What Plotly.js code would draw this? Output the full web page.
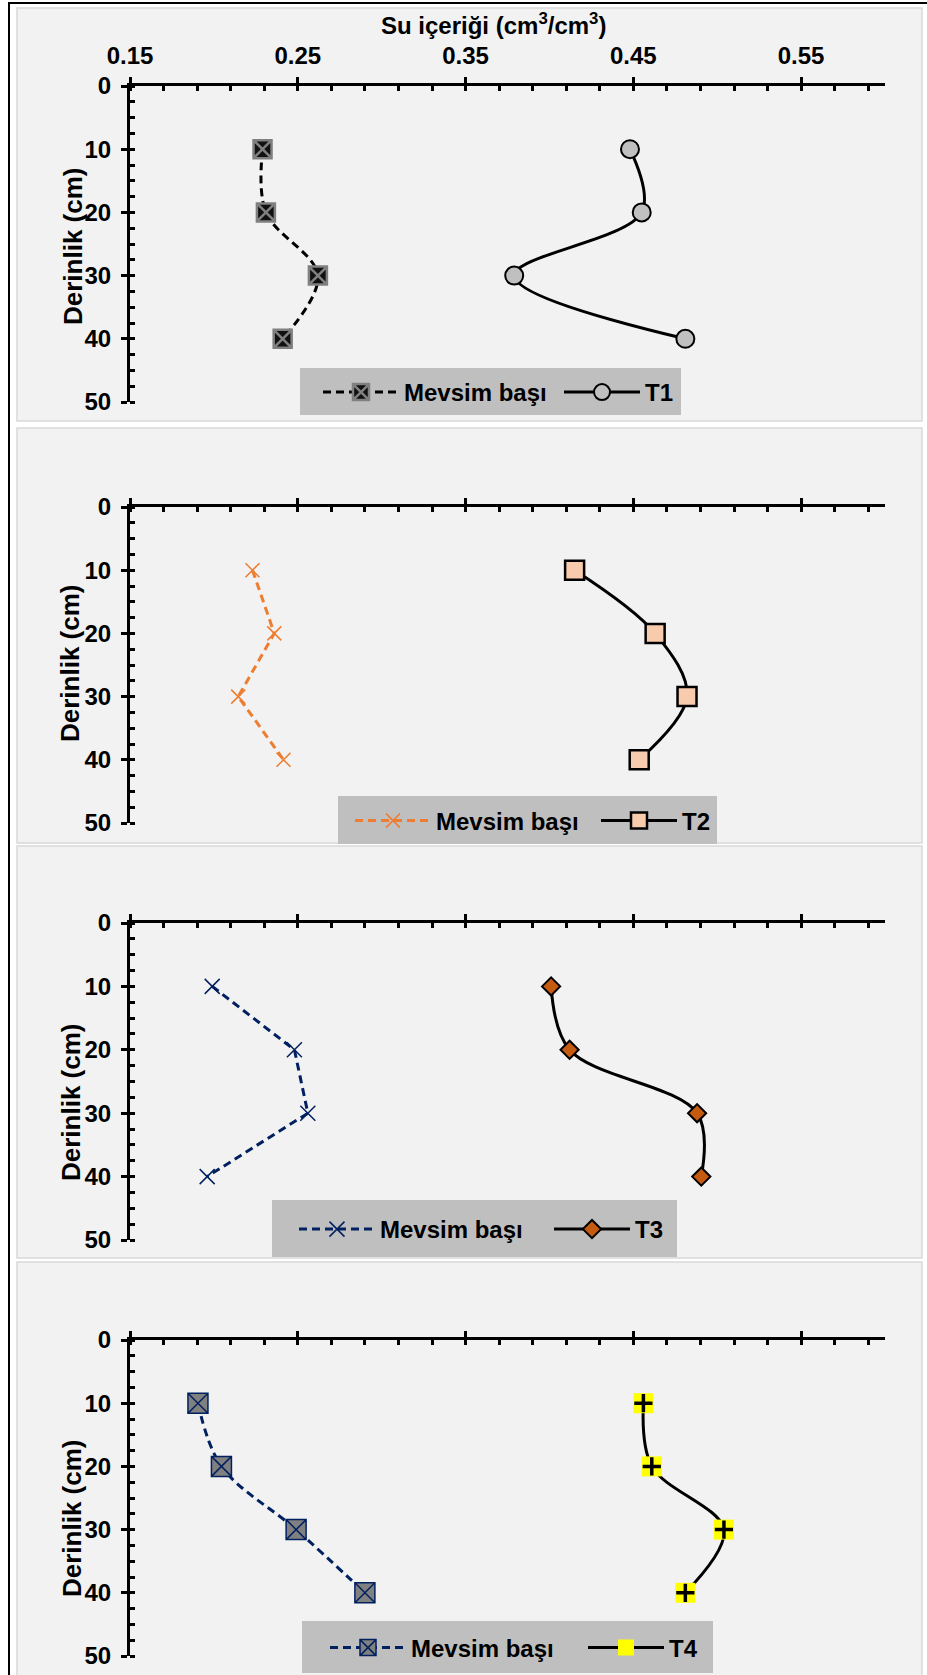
<!DOCTYPE html>
<html><head><meta charset="utf-8">
<script src="https://cdn.plot.ly/plotly-3.0.1.min.js"></script>
<style>html,body{margin:0;padding:0;background:#fff}</style>
</head><body><div id="chart" style="width:927px;height:1675px"></div>
<script>
// ---- data (depth in cm, water content in cm3/cm3) ----
const depth = [10, 20, 30, 40];
const mevsimP1 = [0.229, 0.231, 0.262, 0.241];
const t1 = [0.448, 0.455, 0.379, 0.481];
const mevsimP2 = [0.223, 0.236, 0.2145, 0.2415];
const t2 = [0.415, 0.463, 0.482, 0.4535];
const mevsimP3 = [0.199, 0.248, 0.256, 0.196];
const t3 = [0.401, 0.412, 0.488, 0.4905];
const mevsimP4 = [0.1905, 0.2045, 0.249, 0.290];
const t4 = [0.456, 0.461, 0.504, 0.481];
const seriesNames = ['Mevsim başı', 'T1', 'T2', 'T3', 'T4'];
const xTitle = 'Su içeriği (cm<sup>3</sup>/cm<sup>3</sup>)';
const yTitle = 'Derinlik (cm)';

const W = 927, H = 1675;
const px = v => v / W;
const py = v => 1 - v / H;
const FONT = {family: 'Liberation Sans, Arial, sans-serif', size: 24, color: '#000', weight: 'bold'};

// panel geometry (pixels)
const panels = [
  {top: 86, bot: 402, bg: [8, 421], box: [300, 368, 681, 415], leg: 318, ew: 150, ttl: [73, 246]},
  {top: 507, bot: 823, bg: [428, 843], box: [338, 796, 717, 844], leg: 350, ew: 155, ttl: [70, 663]},
  {top: 923, bot: 1240, bg: [846, 1258], box: [272, 1200, 677, 1257], leg: 294, ew: 164, ttl: [71, 1102]},
  {top: 1340, bot: 1656, bg: [1262, 1690], box: [302, 1621, 713, 1673], leg: 325, ew: 167, ttl: [72, 1518]}
];

const traces = [];
const dashStyle = '8px,5px';
function addPanel(i, mevsim, mStyle, tVals, tName, tMarker, tOverlay) {
  const xa = i === 0 ? 'x' : 'x' + (i + 1);
  const ya = i === 0 ? 'y' : 'y' + (i + 1);
  const lg = i === 0 ? 'legend' : 'legend' + (i + 1);
  traces.push({
    x: mevsim, y: depth, xaxis: xa, yaxis: ya, legend: lg,
    name: seriesNames[0], mode: 'lines+markers', type: 'scatter',
    line: {color: mStyle.lineColor, width: 3, dash: dashStyle, shape: mStyle.shape, smoothing: 1},
    marker: mStyle.marker
  });
  traces.push({
    x: tVals, y: depth, xaxis: xa, yaxis: ya, legend: lg,
    name: tName, mode: 'lines+markers', type: 'scatter',
    line: {color: '#000', width: 3, shape: 'spline', smoothing: 1},
    marker: tMarker
  });
  if (tOverlay) {
    traces.push({
      x: tVals, y: depth, xaxis: xa, yaxis: ya, legend: lg, showlegend: false,
      name: tName, mode: 'markers', type: 'scatter', marker: tOverlay
    });
  }
}

addPanel(0, mevsimP1,
  {lineColor: '#000', shape: 'spline', marker: {symbol: 'square-x', size: 18, color: '#111', line: {color: '#808080', width: 2.5}}},
  t1, seriesNames[1],
  {symbol: 'circle', size: 18, color: '#c0c0c0', line: {color: '#000', width: 2}});
addPanel(1, mevsimP2,
  {lineColor: '#ed7d31', shape: 'linear', marker: {symbol: 'x-thin-open', size: 14, color: '#ed7d31', line: {color: '#ed7d31', width: 1.5}}},
  t2, seriesNames[2],
  {symbol: 'square', size: 19, color: '#f8cbad', line: {color: '#000', width: 2.5}});
addPanel(2, mevsimP3,
  {lineColor: '#002060', shape: 'linear', marker: {symbol: 'x-thin-open', size: 15, color: '#002060', line: {color: '#002060', width: 1.5}}},
  t3, seriesNames[3],
  {symbol: 'diamond', size: 14, color: '#c55a11', line: {color: '#000', width: 2}});
addPanel(3, mevsimP4,
  {lineColor: '#002060', shape: 'spline', marker: {symbol: 'square-x', size: 20, color: '#808080', line: {color: '#002060', width: 1.5}}},
  t4, seriesNames[4],
  {symbol: 'square', size: 20, color: '#ffff00', line: {color: '#ffff00', width: 0}},
  {symbol: 'cross-thin-open', size: 13, color: '#000', line: {color: '#000', width: 3.5}});

const layout = {
  width: W, height: H,
  margin: {l: 0, r: 0, t: 0, b: 0},
  paper_bgcolor: '#ffffff', plot_bgcolor: 'rgba(0,0,0,0)',
  font: FONT,
  shapes: [], annotations: []
};

panels.forEach((p, i) => {
  const s = i === 0 ? '' : String(i + 1);
  layout['xaxis' + s] = {
    domain: [px(130), px(885)], range: [0.15, 0.6], side: 'top',
    anchor: 'y' + s, tick0: 0.15, dtick: 0.1, tickformat: '.2f',
    showticklabels: i === 0, ticks: 'outside', ticklen: 6, tickwidth: 3, tickcolor: '#000',
    ticklabelstandoff: 3,
    minor: {tick0: 0.15, dtick: 0.02, ticks: 'inside', ticklen: 5, tickwidth: 3, tickcolor: '#000'},
    showline: true, linewidth: 3, linecolor: '#000', showgrid: false, zeroline: false,
    tickfont: FONT, fixedrange: true
  };
  layout['yaxis' + s] = {
    domain: [py(p.bot), py(p.top)], range: [50, 0], anchor: 'x' + s,
    tick0: 0, dtick: 10, ticks: 'outside', ticklen: 6, tickwidth: 3, tickcolor: '#000',
    ticklabelstandoff: 5,
    minor: {tick0: 0, dtick: 2.5, ticks: 'inside', ticklen: 5, tickwidth: 3, tickcolor: '#000'},
    showline: true, linewidth: 3, linecolor: '#000', showgrid: false, zeroline: false,
    tickfont: FONT, fixedrange: true
  };
  layout['legend' + s] = {
    orientation: 'h', x: px(p.leg), y: py((p.box[1] + p.box[3]) / 2 + 1),
    xanchor: 'left', yanchor: 'middle',
    bgcolor: 'rgba(0,0,0,0)', borderwidth: 0, font: FONT, itemwidth: 76,
    entrywidth: p.ew, traceorder: 'normal'
  };
  layout.shapes.push({
    type: 'rect', xref: 'paper', yref: 'paper', layer: 'below',
    x0: px(17), x1: px(922), y0: py(p.bg[0]), y1: py(p.bg[1]),
    fillcolor: '#f2f2f2', line: {color: '#d9d9d9', width: 1.5}
  });
  layout.shapes.push({
    type: 'rect', xref: 'paper', yref: 'paper', layer: 'below',
    x0: px(p.box[0]), x1: px(p.box[2]), y0: py(p.box[1]), y1: py(p.box[3]),
    fillcolor: '#bfbfbf', line: {width: 0}
  });
  layout.annotations.push({
    xref: 'paper', yref: 'paper', x: px(p.ttl[0]), y: py(p.ttl[1]),
    text: yTitle, textangle: -90, showarrow: false, xanchor: 'center', yanchor: 'middle',
    font: Object.assign({}, FONT, {size: 26})
  });
});
layout.shapes.push({
  type: 'rect', xref: 'paper', yref: 'paper', layer: 'above',
  x0: px(9), x1: px(960), y0: py(3), y1: py(1700),
  line: {color: '#000', width: 2}
});
layout.annotations.push({
  xref: 'paper', yref: 'paper', x: px(493), y: py(24),
  text: xTitle, showarrow: false, xanchor: 'center', yanchor: 'middle',
  font: Object.assign({}, FONT, {size: 24})
});

Plotly.newPlot('chart', traces, layout, {displayModeBar: false, staticPlot: true});
</script></body></html>
